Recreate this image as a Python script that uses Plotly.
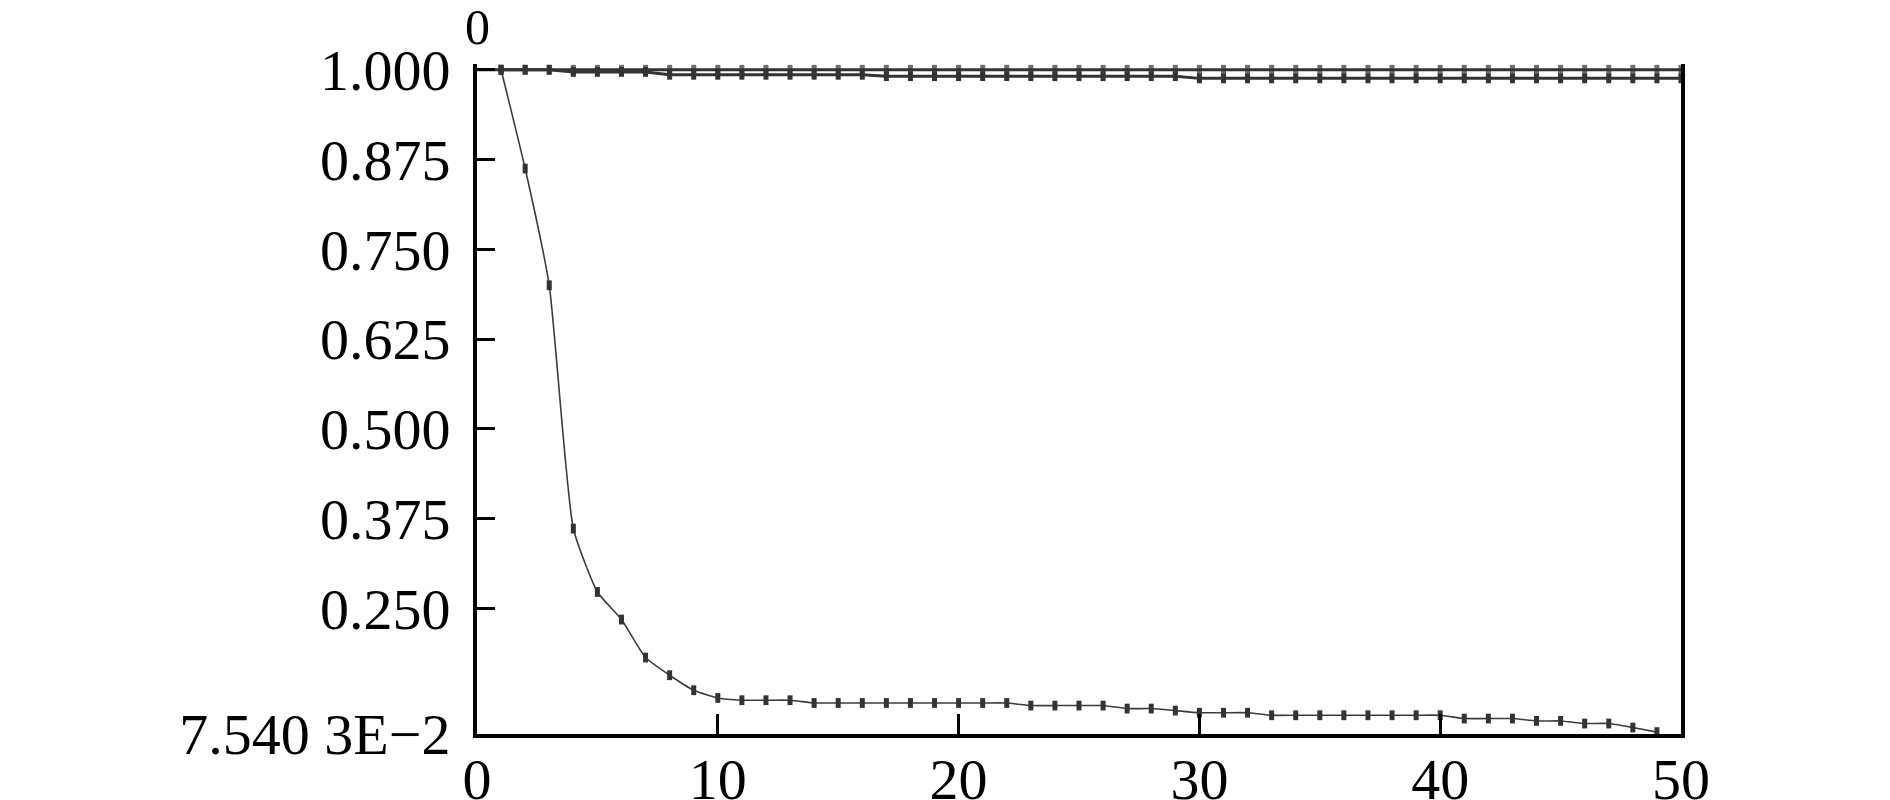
"""
Krivulje konvergencije kroz generacije (rekonstrukcija grafa).
"""
import plotly.graph_objects as go

# generacije
gen_top = list(range(0, 51))
gen_avg = list(range(1, 51))
gen_min = list(range(1, 50))

# gornja krivulja - konstantno 1.000
fit_top = [1.0] * 51

# druga krivulja - malo ispod 1.000
fit_avg = ([1.0] * 3 + [0.997] * 4 + [0.993] * 9 + [0.991] * 13
           + [0.988] * 21)

# donja krivulja - pad do minimuma
fit_min = [1.000, 0.8625, 0.700, 0.3614, 0.2731, 0.2347, 0.1818, 0.1572,
           0.1363, 0.1256, 0.1224, 0.1224, 0.1224, 0.1186, 0.1186, 0.1186,
           0.1186, 0.1186, 0.1186, 0.1186, 0.1186, 0.1186, 0.1150, 0.1150,
           0.1150, 0.1150, 0.1108, 0.1108, 0.1080, 0.1050, 0.1050, 0.1050,
           0.1015, 0.1015, 0.1015, 0.1015, 0.1015, 0.1015, 0.1015, 0.1015,
           0.0969, 0.0969, 0.0969, 0.0936, 0.0936, 0.0900, 0.0900, 0.0844,
           0.0780]

y_ticks = [0.075403, 0.250, 0.375, 0.500, 0.625, 0.750, 0.875, 1.000]
y_labels = ['7.540 3E\u22122', '0.250', '0.375', '0.500', '0.625', '0.750',
            '0.875', '1.000']
x_ticks = [0, 10, 20, 30, 40, 50]

FONT = 'Liberation Serif, Times New Roman, serif'
DARK = '#333333'

marker_style = dict(symbol='line-ns', size=7, color=DARK,
                    line=dict(color=DARK, width=5))

fig = go.Figure()

fig.add_trace(go.Scatter(
    x=gen_top, y=fit_top, mode='lines+markers',
    line=dict(color=DARK, width=3),
    marker=dict(marker_style, size=[0] + [7] * 50),
    cliponaxis=False, showlegend=False
))

fig.add_trace(go.Scatter(
    x=gen_avg, y=fit_avg, mode='lines+markers',
    line=dict(color=DARK, width=3),
    marker=marker_style,
    cliponaxis=False, showlegend=False
))

fig.add_trace(go.Scatter(
    x=gen_min, y=fit_min, mode='lines+markers',
    line=dict(color='#3c3c3c', width=1.6, shape='spline', smoothing=0.5),
    marker=marker_style,
    cliponaxis=False, showlegend=False
))

# "0" iznad lijeve osi
fig.add_annotation(
    text='0', x=0, y=1.0, xref='x', yref='paper',
    yanchor='bottom', yshift=7, showarrow=False,
    font=dict(family=FONT, size=50, color='black')
)

# stranica ima 8px margine, pa je figura malo manja od prozora
fig.update_layout(
    width=1882, height=792,
    margin=dict(l=469, r=209, t=56, b=66),
    plot_bgcolor='white', paper_bgcolor='white',
    font=dict(family=FONT, size=58, color='black'),
    xaxis=dict(
        range=[0, 50], tickvals=x_ticks, automargin=False,
        ticks='inside', ticklen=20, tickwidth=3, tickcolor='black',
        showline=True, linewidth=4, linecolor='black',
        showgrid=False, zeroline=False, ticklabelstandoff=-9
    ),
    yaxis=dict(
        range=[0.075403, 1.008], tickvals=y_ticks, ticktext=y_labels,
        automargin=False,
        ticks='inside', ticklen=18, tickwidth=3, tickcolor='black',
        showline=True, linewidth=4, linecolor='black', mirror=True,
        showgrid=False, zeroline=False, ticklabelstandoff=11
    )
)

fig.write_html("out.html")
